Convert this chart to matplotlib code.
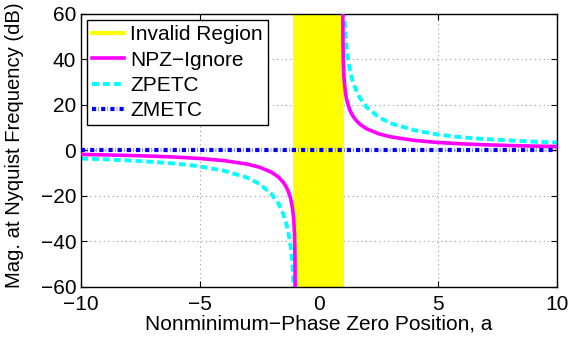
import numpy as np
import matplotlib
matplotlib.use("Agg")
import matplotlib.pyplot as plt
from matplotlib.lines import Line2D

plt.rcParams['font.family'] = ['Liberation Sans', 'DejaVu Sans']

# values
a_left = [-10, -9, -8, -7, -6, -5, -4, -3, -2.5, -2, -1.7, -1.5, -1.4, -1.3,
          -1.2, -1.15, -1.1, -1.07, -1.05, -1.03, -1.02, -1.01, -1.005, -1.002]
npz_left = [-1.74, -1.94, -2.18, -2.5, -2.92, -3.52, -4.44, -6.02, -7.36, -9.54,
            -11.7, -14.0, -15.6, -17.7, -20.8, -23.1, -26.4, -29.5, -32.3,
            -36.6, -40.1, -46.1, -52.0, -60.0]
zpetc_left = [-3.5, -3.9, -4.4, -5.0, -5.8, -7.0, -8.9, -12.0, -14.7, -19.1,
              -23.4, -28.0, -31.1, -35.4, -41.6, -46.2, -52.8, -59.0, -64.6,
              -73.2, -80.2, -92.2, -104.0, -120.0]

a_right = [1.002, 1.005, 1.01, 1.02, 1.03, 1.05, 1.07, 1.1, 1.15, 1.2, 1.3, 1.4,
           1.5, 1.7, 2, 2.5, 3, 4, 5, 6, 7, 8, 9, 10]
npz_right = [60.0, 52.0, 46.1, 40.1, 36.6, 32.3, 29.5, 26.4, 23.1, 20.8, 17.7,
             15.6, 14.0, 11.7, 9.54, 7.36, 6.02, 4.44, 3.52, 2.92, 2.5, 2.18,
             1.94, 1.74]
zpetc_right = [120.0, 104.0, 92.2, 80.2, 73.2, 64.6, 59.0, 52.8, 46.2, 41.6,
               35.4, 31.1, 28.0, 23.4, 19.1, 14.7, 12.0, 8.9, 7.0, 5.8, 5.0,
               4.4, 3.9, 3.5]

zmetc_a = [-10, 10]
zmetc_db = [0, 0]

invalid_lo, invalid_hi = -1.1, 1.05

dash_c = (0, (1.8, 1.0))
dash_b = (0, (1.0, 0.55, 0.1, 0.55))

fig = plt.figure(figsize=(5.85, 3.41), dpi=100)
ax = fig.add_axes([0.1385, 0.1584, 0.8135, 0.8006])

ax.axvspan(invalid_lo, invalid_hi, color='#ffff00', lw=0, zorder=1)
ax.plot(a_left, npz_left, color='#ff00ff', lw=2.6, zorder=3)
ax.plot(a_right, npz_right, color='#ff00ff', lw=2.6, zorder=3)
ax.plot(a_left, zpetc_left, color='#00ffff', lw=2.8, ls=dash_c, zorder=2)
ax.plot(a_right, zpetc_right, color='#00ffff', lw=2.8, ls=dash_c, zorder=2)
ax.plot(zmetc_a, zmetc_db, color='#0000ff', lw=3, ls=dash_b, zorder=4)

ax.set_xlim(-10, 10)
ax.set_ylim(-60, 60)
ax.set_xticks([-10, -5, 0, 5, 10])
ax.set_yticks([-60, -40, -20, 0, 20, 40, 60])
ax.tick_params(direction='in', top=True, right=True, labelsize=15, length=4, width=0.8)
ax.tick_params(axis='x', pad=6)
ax.grid(True, color='#999999', ls=(0, (1, 3)), lw=0.8)
ax.set_axisbelow(True)
for s in ax.spines.values():
    s.set_linewidth(1.0)

ax.set_xlabel('Nonminimum\u2212Phase Zero Position, a', fontsize=15, labelpad=0)
ax.set_ylabel('Mag. at Nyquist Frequency (dB)', fontsize=14.6)
ax.yaxis.set_label_coords(-0.12, 0.518)

handles = [
    Line2D([], [], color='#ffff00', lw=3),
    Line2D([], [], color='#ff00ff', lw=2.6),
    Line2D([], [], color='#00ffff', lw=2.8, ls=dash_c),
    Line2D([], [], color='#0000ff', lw=3, ls=dash_b),
]
labels = ['Invalid Region', 'NPZ\u2212Ignore', 'ZPETC', 'ZMETC']
leg = ax.legend(handles, labels, loc='upper left', fontsize=15, fancybox=False,
                framealpha=1, edgecolor='black', borderaxespad=0.3,
                handlelength=1.5, handletextpad=0.3, labelspacing=0.3,
                borderpad=0.25)
leg.get_frame().set_linewidth(1.0)

fig.savefig('out.png', dpi=100)
